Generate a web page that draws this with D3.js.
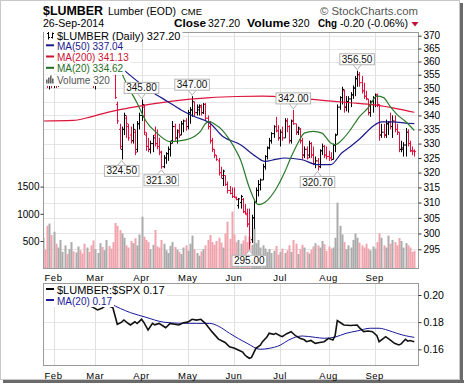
<!DOCTYPE html>
<html><head><meta charset="utf-8">
<script src="https://cdn.jsdelivr.net/npm/d3@7"></script>
<style>
body{margin:0;background:#fff;}
svg{display:block;font-family:"Liberation Sans",Arial,sans-serif;}
</style></head><body>
<svg width="464" height="387"></svg>
<script>
// trading-day index of the first session of each month, and the labels
var monthStart = [5, 24, 45, 66, 87, 108, 130, 151];
var monthLabel = ["Feb", "Mar", "Apr", "May", "Jun", "Jul", "Aug", "Sep"];

var priceTicks = [295, 300, 305, 310, 315, 320, 325, 330, 335, 340, 345, 350, 355, 360, 365, 370];
var volTicks = [500, 1000, 1500];
var ratioTicks = [0.16, 0.18, 0.20];

// daily bars, [open, high, low, close], Jan 27 .. Sep 26 2014
var ohlc = [
  [356,359,353,357],[357,360,354,355],[355,356,350,352],[352,355,349.5,354],[354,356,350,351],
  [351,356,350,355],[355,357,350,351],[351,355,350.5,354],[354,358,352,357],[357,361,355,360],
  [360,363,357,361],[361,364,358,359],[359,363,357,362],[362,366,360,364],[364,366,360,361],
  [361,364,358,363],[363,367,361,365],[365,367,361,362],[362,365,359,360],[360,363,357,358],
  [358,361,355,360],[360,362,356,357],[357,359,353,354],[354,357,350,351],[351,355,349.5,354],
  [354,358,351,356],[356,361,354,360],[360,363,357,359],[359,362,356,361],[361,365,358,363],
  [363,366,360,362],[362,364,358,360],[360,362,357,358],[357,358,346,346.5],[344,345,337,338],
  [335,337,328,329],[328,336,324.5,335],[335,341,333,340],[339,340,332,337],[336,337,331,332],
  [333,336,330,331],[331,337,330,335],[334,335,326,327],[328,338,327,337],[337,341,335,340],
  [340,345.8,338,344],[343,344,333,334],[333,334,327.5,329],[329,332,327,328],[328,331,326.5,330],
  [330,333,327,332],[333,336,329,330],[330,335,328,329],[329,332,326,327],[327,327.5,321.3,322],
  [322,326,321.5,325],[325,327,323,326.5],[326.5,329,324,328],[328,331,325.5,330],[331,338,330,336],
  [336,337,331,332],[332,335,330,334.5],[334,337,332,333],[333,338,333,337],[337,338.5,334,338],
  [338,339,334.5,336],[336,342,335,341],[341,343,337,342],[342,347,339.5,345],[345,345,339.5,341],
  [341,344,340,343],[342,344,340,343.5],[343,344,340,341],[341,344.5,340.5,344],[344,344.5,338,339],
  [339,340,335,336],[336,338,330,331],[331,332,327,328],[328,328,325,326],[326,326,324,324.5],
  [324,325,319,320],[320,322,318,319],[318,321,315.5,320.5],[319,319,315.5,316],[316,317,313,314],
  [314,315.5,312.7,313],[313,315,311.5,312],[312,315,311.5,311.8],[311.5,312,310.7,311],[309,311.5,308,311.2],
  [310,312.5,308,312],[311,311.5,306.5,307],[307,309.5,306,306.5],[306,308,302,303],[303,308,295,297],
  [298,306,297,305],[305,310.7,301.5,310],[310,315,310,314],[314,317.5,312,316],[316,318,314,317.5],
  [317.5,323,317.5,322],[322,326,321,325.5],[325.5,329,324.5,328.5],[328.5,332,328,331],[331,334,330,333.5],
  [333.5,336.5,332,336],[336,339.5,334,334.5],[334.5,336.5,331,332],[332,335,329,334],[334,336,331,332],
  [332,339,332,338],[338,339,334,336],[336,336.5,330,331],[331,338.5,330,338],[338,342,336.6,337],
  [337,337,333,334],[334,336,333,335.5],[335,335.5,330,331],[331,332,324.5,326],[326,329,325,328],
  [328,329,324.5,325],[326,331,325,330],[330,330.5,325,326],[326,329,322.5,323],[323,325.5,321.5,324],
  [324,325,320.7,322],[322,328,321.5,327.5],[327.5,330,326,329],[329,329.5,325,326],[326,329,324.5,325.5],
  [325.5,327.5,324,325],[325,327,324,324.5],[324.5,330,324.5,329.5],[329.5,333.5,327,333],[333,344,333,343],
  [343,347,342,346.5],[346.5,350.5,344,349.5],[349,349.5,341,343],[343,347,341.5,345],[345,347,341,346],
  [346,348.5,343,347.5],[347.5,351,346,350],[350,354.5,347,353.5],[353.5,356.5,350.5,355],[355,356,350.5,352],
  [352,354.5,348,349],[349,352,346,347],[347,349,345.5,346],[346,346,340,341],[341,345.5,339.5,345],
  [345,347,341,346.5],[346.5,348,343,347.5],[347.5,348,343,344],[344,344,331,333],[333,337,332,334],
  [334,337,332,333],[333,338.5,332,337],[337,338,333,337.5],[337.5,341,335,336],[336,340,332,338],
  [338,340,334,335],[335,337,333,334],[334,334,327,328],[328,331,327,328.5],[328,330.5,325.5,329.5],
  [329.5,335.5,325.5,334],[334,335,329,330],[330,331,327,327.5],[327.5,329,326,327.4],[327.4,328,325.5,327.2]
];

var volume = [
  560,340,780,820,610,670,450,380,520,300, 420,260,350,480,310,290,400,330,270,450,
  380,300,420,510,350,280,460,390,330,520, 410,360,480,830,780,700,640,560,420,380,
  500,460,550,420,620,947,580,520,480,350, 430,702,400,380,520,450,330,280,410,480,
  390,340,300,260,380,420,320,450,600,350, 280,230,310,350,420,520,610,480,430,500,
  560,470,380,640,855,540,1040,620,480,520, 450,510,600,480,580,430,740,460,520,380,
  420,360,300,350,280,320,410,250,300,360, 280,330,420,300,518,450,260,350,430,380,
  300,270,340,400,460,420,380,500,440,320, 400,360,380,560,1204,780,620,480,350,420,
  380,520,640,560,470,420,380,450,360,330, 400,360,480,641,560,420,380,600,450,520,
  480,420,555,500,380,460,420,380,300,320
];

// moving averages, [day, value]
var ma20 = [[35,357.6],[38,352],[43,344.5],[47,338],[52,333.7],[58,330.7],[65,331.3],[69,332.5],[72,334.5],
  [74,337],[76,337.8],[78,337],[82,334.5],[85,331.4],[88,327.5],[90,324.4],[94,315],[98,309.3],[101,310],
  [106,314.3],[110,320],[113,325.3],[116,330],[119,333.7],[123,334.3],[127,333.7],[131,330.2],[133,329.6],
  [137,332],[140,334.9],[144,339.5],[148,342.7],[152,347],[155,346.5],[158,343.3],[161,340.5],[165,337.8],[169,334.62]];
var ma50 = [[36,357.5],[44,352],[50,348.5],[57,345],[63,342],[69,339.6],[76,337.3],[82,332.5],[90,329.6],
  [97,325.5],[101,323.8],[106,324.5],[110,325],[118,324.4],[125,322.7],[131,322.7],[136,326.7],[140,329],
  [144,331.5],[151,336.6],[154,337.7],[159,337.7],[166,337.2],[169,337.04]];
var ma200 = [[0,338],[14,338.2],[22,339.5],[30,341.2],[40,342.8],[50,344.2],[60,345.3],[75,346.4],[88,346.9],
  [100,347],[115,346.3],[130,345.3],[140,344.6],[151,343.8],[162,342.3],[169,341.13]];

// $LUMBER:$SPX ratio and its MA(20), [day, value]
var ratio = [[18,0.1935],[21,0.1925],[23,0.1909],[25,0.1890],[27,0.1902],[29,0.1926],[31,0.1914],[32,0.1905],
  [34,0.1784],[36,0.1800],[37,0.1816],[39,0.1790],[40,0.1779],[42,0.1803],[43,0.1790],[45,0.1821],[46,0.1800],
  [48,0.1742],[50,0.1791],[51,0.1780],[53,0.1791],[55,0.1770],[56,0.1759],[58,0.1791],[60,0.1785],[62,0.1779],
  [64,0.1796],[66,0.1800],[68,0.1821],[70,0.1815],[72,0.1821],[74,0.1791],[77,0.1730],[80,0.1675],[83,0.1650],
  [85,0.1619],[87,0.1610],[89,0.1595],[91,0.1580],[92,0.1558],[93,0.1545],[94,0.1534],[95,0.1540],[97,0.1607],
  [99,0.1630],[100,0.1656],[102,0.1690],[103,0.1718],[105,0.1710],[106,0.1718],[108,0.1700],[109,0.1693],
  [111,0.1715],[113,0.1730],[115,0.1700],[117,0.1681],[119,0.1670],[120,0.1656],[122,0.1665],[124,0.1644],
  [126,0.1650],[128,0.1656],[130,0.1681],[132,0.1669],[133,0.1700],[134,0.1811],[136,0.1790],[137,0.1779],
  [140,0.1775],[143,0.1779],[144,0.1760],[146,0.1730],[148,0.1735],[150,0.1730],[152,0.1700],[153,0.1656],
  [155,0.1680],[156,0.1693],[158,0.1670],[160,0.1644],[162,0.1632],[163,0.1640],[165,0.1674],[166,0.1660],
  [167,0.1665],[169,0.1656]];
var ratioMa = [[31,0.1934],[40,0.1870],[47,0.1836],[55,0.1800],[62,0.1792],[70,0.1791],[76,0.1791],[80,0.1770],
  [85,0.1718],[93,0.1644],[99,0.1600],[103,0.1607],[108,0.1630],[112,0.1669],[118,0.1698],[124,0.1688],
  [128,0.1681],[133,0.1690],[138,0.1718],[143,0.1735],[149,0.1755],[153,0.1755],[157,0.1740],[161,0.1718],
  [165,0.1700],[169,0.1688]];

// bars that carry a price flag
var highMarks = [45, 68, 114, 143];
var lowMarks = [36, 54, 94, 125];

var RED = "#e0103c";

var svg = d3.select("svg");
var pTop = {left: 43, right: 419, top: 32, bottom: 269};
var pBot = {left: 43, right: 419, top: 283, bottom: 366};

var x = d3.scaleLinear().domain([0, 169]).range([42.5, 414.3]);
var y = d3.scaleLog().domain([295, 370]).range([249.3, 35.7]);
var yv = d3.scaleLinear().domain([0, 1500]).range([268.2, 186.6]);
var yr = d3.scaleLinear().domain([0.16, 0.20]).range([349.3, 295]);

// outer frame with the shadow on the right and bottom
svg.append("rect").attr("x", 3).attr("y", 380).attr("width", 461).attr("height", 3).attr("fill", "#6a6a6a");
svg.append("rect").attr("x", 460).attr("y", 3).attr("width", 3).attr("height", 380).attr("fill", "#6a6a6a");
svg.append("rect").attr("x", 0.5).attr("y", 0.5).attr("width", 459).attr("height", 379)
  .attr("fill", "#fff").attr("stroke", "#c8c8c8");

// header
function txt(px, py, s, size, opts) {
  opts = opts || {};
  var t = svg.append("text").attr("x", px).attr("y", py).text(s)
    .style("font-size", size + "px").attr("fill", opts.fill || "#000");
  if (opts.bold) t.style("font-weight", "bold");
  if (opts.anchor) t.attr("text-anchor", opts.anchor);
  if (opts.len) t.attr("textLength", opts.len).attr("lengthAdjust", "spacingAndGlyphs");
  return t;
}
txt(43, 14.5, "$LUMBER", 13, {bold: true, len: 60});
txt(108, 14.5, "Lumber (EOD)", 10.5, {len: 68});
txt(181, 14.5, "CME", 9, {len: 21});
txt(320, 14.5, "\u00a9 StockCharts.com", 11, {fill: "#555", len: 98});
txt(43, 26.5, "26-Sep-2014", 10.5, {len: 61});
txt(174, 26.5, "Close", 11, {bold: true, len: 32});
txt(208, 26.5, "327.20", 10.5);
txt(247, 26.5, "Volume", 11, {bold: true, len: 43});
txt(292, 26.5, "320", 10.5);
txt(318, 26.5, "Chg", 11, {bold: true, len: 19});
txt(340, 26.5, "-0.20 (-0.06%)", 10.5, {len: 68});
svg.append("path").attr("d", "M411.5,22L418.5,22L415,26.5Z").attr("fill", "#c0103c");

// clip regions
var defs = svg.append("defs");
defs.append("clipPath").attr("id", "cTop").append("rect")
  .attr("x", pTop.left).attr("y", pTop.top).attr("width", pTop.right - pTop.left).attr("height", pTop.bottom - pTop.top);
defs.append("clipPath").attr("id", "cBot").append("rect")
  .attr("x", pBot.left).attr("y", pBot.top).attr("width", pBot.right - pBot.left).attr("height", pBot.bottom - pBot.top);

// ---------- price panel ----------
var gTop = svg.append("g");
gTop.selectAll(".hg").data(priceTicks).enter().append("line")
  .attr("x1", pTop.left).attr("x2", pTop.right)
  .attr("y1", function(d) { return Math.round(y(d)) + 0.5; })
  .attr("y2", function(d) { return Math.round(y(d)) + 0.5; })
  .attr("stroke", "#e6e6e6");
gTop.selectAll(".vg").data(monthStart).enter().append("line")
  .attr("x1", function(d) { return Math.round(x(d)) + 0.5; })
  .attr("x2", function(d) { return Math.round(x(d)) + 0.5; })
  .attr("y1", pTop.top).attr("y2", pTop.bottom)
  .attr("stroke", "#e0e0e0");

var plot = gTop.append("g").attr("clip-path", "url(#cTop)");

function isUp(i) {
  var prev = i > 0 ? ohlc[i - 1][3] : ohlc[i][0];
  return ohlc[i][3] >= prev;
}

plot.selectAll(".vol").data(volume).enter().append("rect")
  .attr("x", function(d, i) { return Math.round(x(i)) - 0.5; })
  .attr("width", 2)
  .attr("y", function(d) { return yv(d); })
  .attr("height", function(d) { return yv(0) - yv(d); })
  .attr("fill", function(d, i) { return isUp(i) ? "#ababab" : "#f0a4ad"; });

plot.selectAll(".bar").data(ohlc).enter().append("path")
  .attr("d", function(d, i) {
    var cx = Math.round(x(i)) + 0.5;
    return "M" + cx + "," + y(d[1]) + "V" + y(d[2]) +
      "M" + (cx - 1.5) + "," + y(d[0]) + "H" + cx +
      "M" + cx + "," + y(d[3]) + "H" + (cx + 1.5);
  })
  .attr("fill", "none")
  .attr("stroke-width", 1)
  .attr("stroke", function(d, i) { return isUp(i) ? "#000" : RED; });

var maLine = d3.line()
  .x(function(d) { return x(d[0]); })
  .y(function(d) { return y(d[1]); })
  .curve(d3.curveMonotoneX);
plot.append("path").datum(ma200).attr("d", maLine).attr("fill", "none").attr("stroke", "#dc143c").attr("stroke-width", 1.2);
plot.append("path").datum(ma50).attr("d", maLine).attr("fill", "none").attr("stroke", "#1a1a8c").attr("stroke-width", 1.2);
plot.append("path").datum(ma20).attr("d", maLine).attr("fill", "none").attr("stroke", "#2a7a2a").attr("stroke-width", 1.2);

// price flags
function flag(i, isHigh) {
  var v = isHigh ? ohlc[i][1] : ohlc[i][2];
  var cx = x(i), py = y(v);
  var g = plot.append("g");
  var t = g.append("text").attr("x", cx).attr("text-anchor", "middle")
    .style("font-size", "10px").attr("fill", "#111").text(v.toFixed(2));
  var w = t.node().getComputedTextLength() + 4, h = 11;
  var by = isHigh ? py - 6 - h : py + 6;
  var base = isHigh ? by + h : by;
  var tip = isHigh ? py - 1 : py + 1;
  g.insert("path", "text").attr("d", "M" + (cx - 4) + "," + base + "L" + cx + "," + tip + "L" + (cx + 4) + "," + base)
    .attr("fill", "#fff").attr("stroke", "#b4b4b4");
  g.insert("rect", "text").attr("x", cx - w / 2).attr("y", by).attr("width", w).attr("height", h)
    .attr("fill", "#fff").attr("stroke", "#b4b4b4");
  t.attr("y", by + 9);
}
highMarks.forEach(function(i) { flag(i, true); });
lowMarks.forEach(function(i) { flag(i, false); });

// legend rows with white backing
function legendRow(g, py, label, color, size, kind) {
  var row = g.append("g");
  var t = row.append("text").attr("x", 57).attr("y", py).text(label)
    .style("font-size", size + "px").attr("fill", color);
  var w = t.node().getComputedTextLength();
  row.insert("rect", "text").attr("x", 44).attr("y", py - size + 1).attr("width", w + 15).attr("height", size + 1.5).attr("fill", "#fff");
  if (kind === "line") {
    row.append("rect").attr("x", 46).attr("y", py - size / 2 - 0.5).attr("width", 8).attr("height", 2).attr("fill", color);
  } else if (kind === "bars") {
    row.append("path").attr("d", "M48.5," + (py - 8) + "V" + py + "M47," + (py - 6) + "H48.5M48.5," + (py - 2) + "H50" +
      "M52.5," + (py - 7) + "V" + (py - 1) + "M51," + (py - 2) + "H52.5M52.5," + (py - 6) + "H54")
      .attr("stroke", "#000").attr("fill", "none");
  } else if (kind === "vol") {
    [[46, 4], [48, 6], [50, 8], [52, 5]].forEach(function(b) {
      row.append("rect").attr("x", b[0]).attr("y", py - b[1]).attr("width", 1.6).attr("height", b[1]).attr("fill", "#666");
    });
  }
}
var legTop = svg.append("g").attr("clip-path", "url(#cTop)");
legendRow(legTop, 39.5, "$LUMBER (Daily) 327.20", "#000", 11, "bars");
legendRow(legTop, 49.8, "MA(50) 337.04", "#1a1a8c", 10, "line");
legendRow(legTop, 61, "MA(200) 341.13", "#cc1133", 10, "line");
legendRow(legTop, 72.3, "MA(20) 334.62", "#1f6e1f", 10, "line");
legendRow(legTop, 83.5, "Volume 320", "#555", 10, "vol");

gTop.append("rect").attr("x", pTop.left + 0.5).attr("y", pTop.top + 0.5)
  .attr("width", pTop.right - pTop.left - 1).attr("height", pTop.bottom - pTop.top - 1)
  .attr("fill", "none").attr("stroke", "#9a9a9a");

// right price axis
var ax = svg.append("g").attr("transform", "translate(" + (pTop.right - 0.5) + ",0)")
  .call(d3.axisRight(y).tickValues(priceTicks).tickFormat(d3.format("d")).tickSize(3).tickPadding(2));
ax.select(".domain").remove();
ax.selectAll("text").style("font-size", "10px").style("font-family", "Liberation Sans, Arial, sans-serif");
ax.selectAll("line").attr("stroke", "#333");

// left volume axis
var av = svg.append("g").attr("transform", "translate(" + (pTop.left + 0.5) + ",0)")
  .call(d3.axisLeft(yv).tickValues(volTicks).tickFormat(d3.format("d")).tickSize(3).tickPadding(1));
av.select(".domain").remove();
av.selectAll("text").style("font-size", "10px").style("font-family", "Liberation Sans, Arial, sans-serif");
av.selectAll("line").attr("stroke", "#333");

// month labels
function monthAxis(py) {
  svg.append("g").selectAll("text").data(monthStart).enter().append("text")
    .attr("x", function(d) { return x(d); }).attr("y", py)
    .attr("text-anchor", "middle").style("font-size", "9.5px").style("letter-spacing", "0.5px")
    .text(function(d, i) { return monthLabel[i]; });
}
monthAxis(280.5);

// ---------- ratio panel ----------
var gBot = svg.append("g");
gBot.selectAll(".hg").data(ratioTicks).enter().append("line")
  .attr("x1", pBot.left).attr("x2", pBot.right)
  .attr("y1", function(d) { return Math.round(yr(d)) + 0.5; })
  .attr("y2", function(d) { return Math.round(yr(d)) + 0.5; })
  .attr("stroke", "#e6e6e6");
gBot.selectAll(".vg").data(monthStart).enter().append("line")
  .attr("x1", function(d) { return Math.round(x(d)) + 0.5; })
  .attr("x2", function(d) { return Math.round(x(d)) + 0.5; })
  .attr("y1", pBot.top).attr("y2", pBot.bottom)
  .attr("stroke", "#e0e0e0");

var plotB = gBot.append("g").attr("clip-path", "url(#cBot)");
var rLine = d3.line().x(function(d) { return x(d[0]); }).y(function(d) { return yr(d[1]); });
plotB.append("path").datum(ratioMa).attr("d", rLine.curve(d3.curveMonotoneX))
  .attr("fill", "none").attr("stroke", "#1a1a9c").attr("stroke-width", 1);
plotB.append("path").datum(ratio).attr("d", rLine.curve(d3.curveLinear))
  .attr("fill", "none").attr("stroke", "#111").attr("stroke-width", 1.6);

var legBot = svg.append("g").attr("clip-path", "url(#cBot)");
legendRow(legBot, 294, "$LUMBER:$SPX 0.17", "#000", 11, "line");
legendRow(legBot, 304.5, "MA(20) 0.17", "#1a1a9c", 10, "line");

gBot.append("rect").attr("x", pBot.left + 0.5).attr("y", pBot.top + 0.5)
  .attr("width", pBot.right - pBot.left - 1).attr("height", pBot.bottom - pBot.top - 1)
  .attr("fill", "none").attr("stroke", "#9a9a9a");

var ar = svg.append("g").attr("transform", "translate(" + (pBot.right - 0.5) + ",0)")
  .call(d3.axisRight(yr).tickValues(ratioTicks).tickFormat(d3.format(".2f")).tickSize(3).tickPadding(2));
ar.select(".domain").remove();
ar.selectAll("text").style("font-size", "10.5px").style("font-family", "Liberation Sans, Arial, sans-serif");
ar.selectAll("line").attr("stroke", "#333");

monthAxis(378.5);
</script>
</body></html>
